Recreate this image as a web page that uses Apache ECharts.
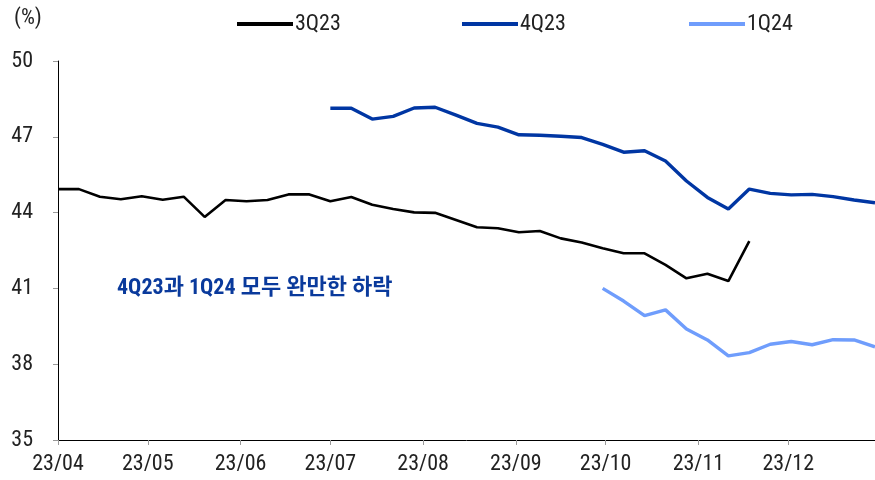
<!DOCTYPE html>
<html>
<head>
<meta charset="utf-8">
<script src="https://cdn.jsdelivr.net/npm/echarts@6/dist/echarts.min.js"></script>
<style>
html,body{margin:0;padding:0;background:#fff;}
#chart{width:875px;height:480px;}
</style>
</head>
<body>
<div id="chart"></div>
<script>
// 주간 데이터 (토요일 기준)
var weeks = ['2023-04-01','2023-04-08','2023-04-15','2023-04-22','2023-04-29',
    '2023-05-06','2023-05-13','2023-05-20','2023-05-27',
    '2023-06-03','2023-06-10','2023-06-17','2023-06-24',
    '2023-07-01','2023-07-08','2023-07-15','2023-07-22','2023-07-29',
    '2023-08-05','2023-08-12','2023-08-19','2023-08-26',
    '2023-09-02','2023-09-09','2023-09-16','2023-09-23','2023-09-30',
    '2023-10-07','2023-10-14','2023-10-21','2023-10-28',
    '2023-11-04','2023-11-11','2023-11-18','2023-11-25',
    '2023-12-02','2023-12-09','2023-12-16','2023-12-23','2023-12-30'];
var names = ['3Q23','4Q23','1Q24'];
var q323 = [44.93,44.93,44.63,44.53,44.65,44.51,44.63,43.83,44.50,44.45,44.50,44.72,44.72,44.45,44.62,44.31,44.14,44.01,43.99,43.71,43.42,43.38,43.22,43.27,42.98,42.82,42.59,42.39,42.39,41.93,41.40,41.58,41.29,42.87];
var q423 = [48.13,48.13,47.70,47.81,48.14,48.17,47.86,47.53,47.38,47.08,47.06,47.02,46.97,46.70,46.39,46.45,46.04,45.25,44.60,44.14,44.93,44.76,44.70,44.72,44.63,44.50,44.39];
var q124 = [41.00,40.50,39.92,40.15,39.39,38.96,38.33,38.46,38.79,38.90,38.77,38.97,38.96,38.69];
var q423Start = 13, q124Start = 26;

var font = '"Roboto Condensed","Noto Sans CJK KR",sans-serif';

function pairs(vals, start){
    return vals.map(function(v,i){ return [weeks[start+i], v]; });
}
function pad(n){ return n<10 ? '0'+n : ''+n; }

var chart = echarts.init(document.getElementById('chart'));
var option = {
    animation: false,
    textStyle: {fontFamily: font},
    grid: {left: 58, right: 0, top: 61, bottom: 40},
    legend: [
        {data: ['3Q23'], left: 232, top: 8},
        {data: ['4Q23'], left: 457, top: 8},
        {data: ['1Q24'], left: 684, top: 8}
    ].map(function(l){
        l.icon = 'rect'; l.itemWidth = 56; l.itemHeight = 4; l.itemGap = 4;
        l.textStyle = {fontSize: 22, color: '#222', fontFamily: font, padding: [0,0,0,-3]};
        return l;
    }),
    graphic: [
        {type: 'text', left: 14, top: 7, style: {text: '(%)', font: '22px ' + font, fill: '#222'}},
        {type: 'text', left: 117, top: 277, style: {text: '4Q23과 1Q24 모두 완만한 하락', font: 'bold 22px ' + font, fill: '#0a3a9c'}}
    ],
    xAxis: {
        type: 'time',
        min: '2023-04-01',
        max: '2023-12-30',
        splitNumber: 9,
        minInterval: 28*86400000,
        maxInterval: 31*86400000,
        axisLine: {lineStyle: {color: '#000', width: 1}},
        axisTick: {show: true, length: 5, lineStyle: {color: '#999'}},
        splitLine: {show: false},
        axisLabel: {
            fontSize: 22, color: '#222', margin: 13, showMaxLabel: false, showMinLabel: true,
            formatter: function(v){
                var d = new Date(v);
                return String(d.getFullYear()).slice(2) + '/' + pad(d.getMonth()+1);
            }
        }
    },
    yAxis: {
        type: 'value',
        min: 35, max: 50, interval: 3,
        axisLine: {show: true, lineStyle: {color: '#000', width: 1}},
        axisTick: {show: true, length: 5, lineStyle: {color: '#999'}},
        splitLine: {show: false},
        axisLabel: {fontSize: 22, color: '#222', margin: 25}
    },
    series: [
        {name: names[0], type: 'line', showSymbol: false, data: pairs(q323, 0),
            itemStyle: {color: '#000'}, lineStyle: {color: '#000', width: 2.6}},
        {name: names[1], type: 'line', showSymbol: false, data: pairs(q423, q423Start),
            itemStyle: {color: '#0036a3'}, lineStyle: {color: '#0036a3', width: 3.4}},
        {name: names[2], type: 'line', showSymbol: false, data: pairs(q124, q124Start),
            itemStyle: {color: '#6f9dfc'}, lineStyle: {color: '#6f9dfc', width: 3.4}}
    ]
};
chart.setOption(option);
</script>
</body>
</html>
